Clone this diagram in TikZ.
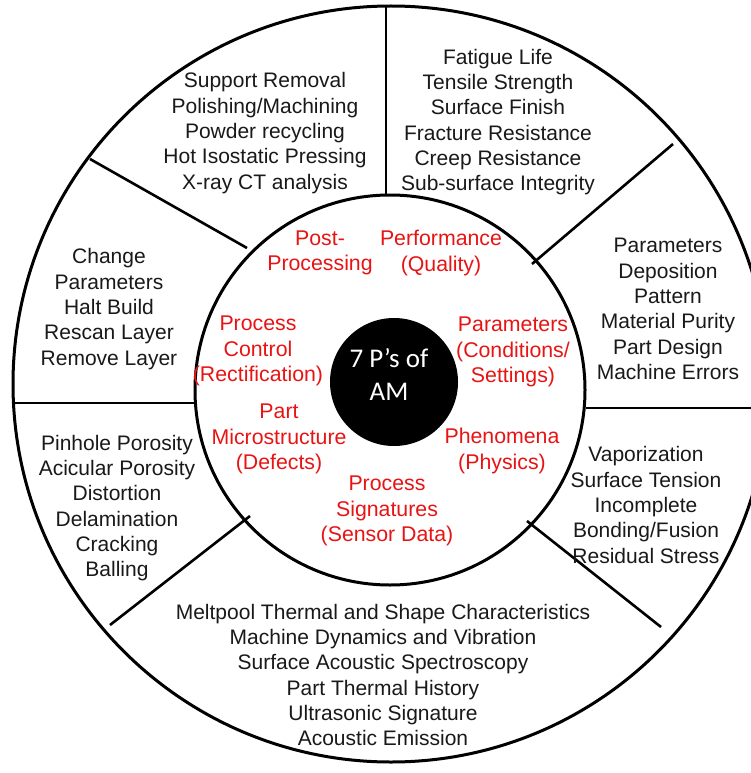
\documentclass[tikz,border=0pt]{standalone}
\usepackage{fontspec}
\setmainfont{Liberation Sans}
\newfontfamily\calib{Carlito}
\definecolor{pred}{RGB}{232,20,20}
\definecolor{ptxt}{RGB}{25,25,25}
\tikzset{
  ring/.style={line width=3pt, draw=black},
  divider/.style={line width=2.6pt, draw=black},
  blk/.style={align=center, inner sep=0pt, text=ptxt, font=\fontsize{21}{25.3}\selectfont},
  rtx/.style={align=center, inner sep=0pt, text=pred, font=\fontsize{21.3}{25.3}\selectfont},
}
\begin{document}
\begin{tikzpicture}[x=1pt,y=-1pt]
\useasboundingbox (0,0) rectangle (751,773);
\clip (0,0) rectangle (751,773);
\fill[white] (0,0) rectangle (751,773);
% circles
\coordinate (oc) at (391,384);
\coordinate (ic) at (390,390);
\draw[ring] (oc) circle[radius=378];
\draw[ring] (ic) circle[radius=195];
\node[circle, fill=black, minimum size=128pt, inner sep=0pt] (core) at (394,382) {};
% divider end points
\coordinate (t1) at (386,6);   \coordinate (t2) at (386,195);
\coordinate (ul1) at (90,159); \coordinate (ul2) at (247,248);
\coordinate (ur1) at (673,144);\coordinate (ur2) at (532,264);
\coordinate (l1) at (14,403);  \coordinate (l2) at (196,403);
\coordinate (r1) at (586,408); \coordinate (r2) at (751,408);
\coordinate (ll1) at (110,625);\coordinate (ll2) at (250,516);
\coordinate (lr1) at (527,521);\coordinate (lr2) at (661,627);
\draw[divider] (t1) -- (t2);
\draw[divider] (ul1) -- (ul2);
\draw[divider] (ur1) -- (ur2);
\draw[divider] (l1) -- (l2);
\draw[divider] (r1) -- (r2);
\draw[divider] (ll1) -- (ll2);
\draw[divider] (lr1) -- (lr2);
% outer texts
\node[blk] (post) at (265,133) {Support Removal\\Polishing/Machining\\Powder recycling\\Hot Isostatic Pressing\\X-ray CT analysis};
\node[blk] (perf) at (498,122) {Fatigue Life\\Tensile Strength\\Surface Finish\\Fracture Resistance\\Creep Resistance\\Sub-surface Integrity};
\node[blk] (par) at (668,309) {Parameters\\Deposition\\Pattern\\Material Purity\\Part Design\\Machine Errors};
\node[blk] (ctrl) at (109,309) {Change\\Parameters\\Halt Build\\Rescan Layer\\Remove Layer};
\node[blk] (defs) at (117,508) {Pinhole Porosity\\Acicular Porosity\\Distortion\\Delamination\\Cracking\\Balling};
\node[blk] (phys) at (646,505) {Vaporization\\Surface Tension\\Incomplete\\Bonding/Fusion\\Residual Stress};
\node[blk] (sig) at (383,675) {Meltpool Thermal and Shape Characteristics\\Machine Dynamics and Vibration\\Surface Acoustic Spectroscopy\\Part Thermal History\\Ultrasonic Signature\\Acoustic Emission};
% inner red labels
\node[rtx] (rpost) at (320,253) {Post-\\Processing};
\node[rtx] (rperf) at (441,253) {Performance\\(Quality)};
\node[rtx] (rctrl) at (258,351) {Process\\Control\\(Rectification)};
\node[rtx] (rpar) at (513,352) {Parameters\\(Conditions/\\Settings)};
\node[rtx] (rmic) at (279,439) {Part\\Microstructure\\(Defects)};
\node[rtx] (rphen) at (502,451) {Phenomena\\(Physics)};
\node[rtx] (rsig) at (387,511) {Process\\Signatures\\(Sensor Data)};
% center
\node[align=center, inner sep=0pt, text=white, font=\calib\fontsize{27}{33}\selectfont] (title) at (389,374) {7 P’s of\\AM};
\end{tikzpicture}
\end{document}
